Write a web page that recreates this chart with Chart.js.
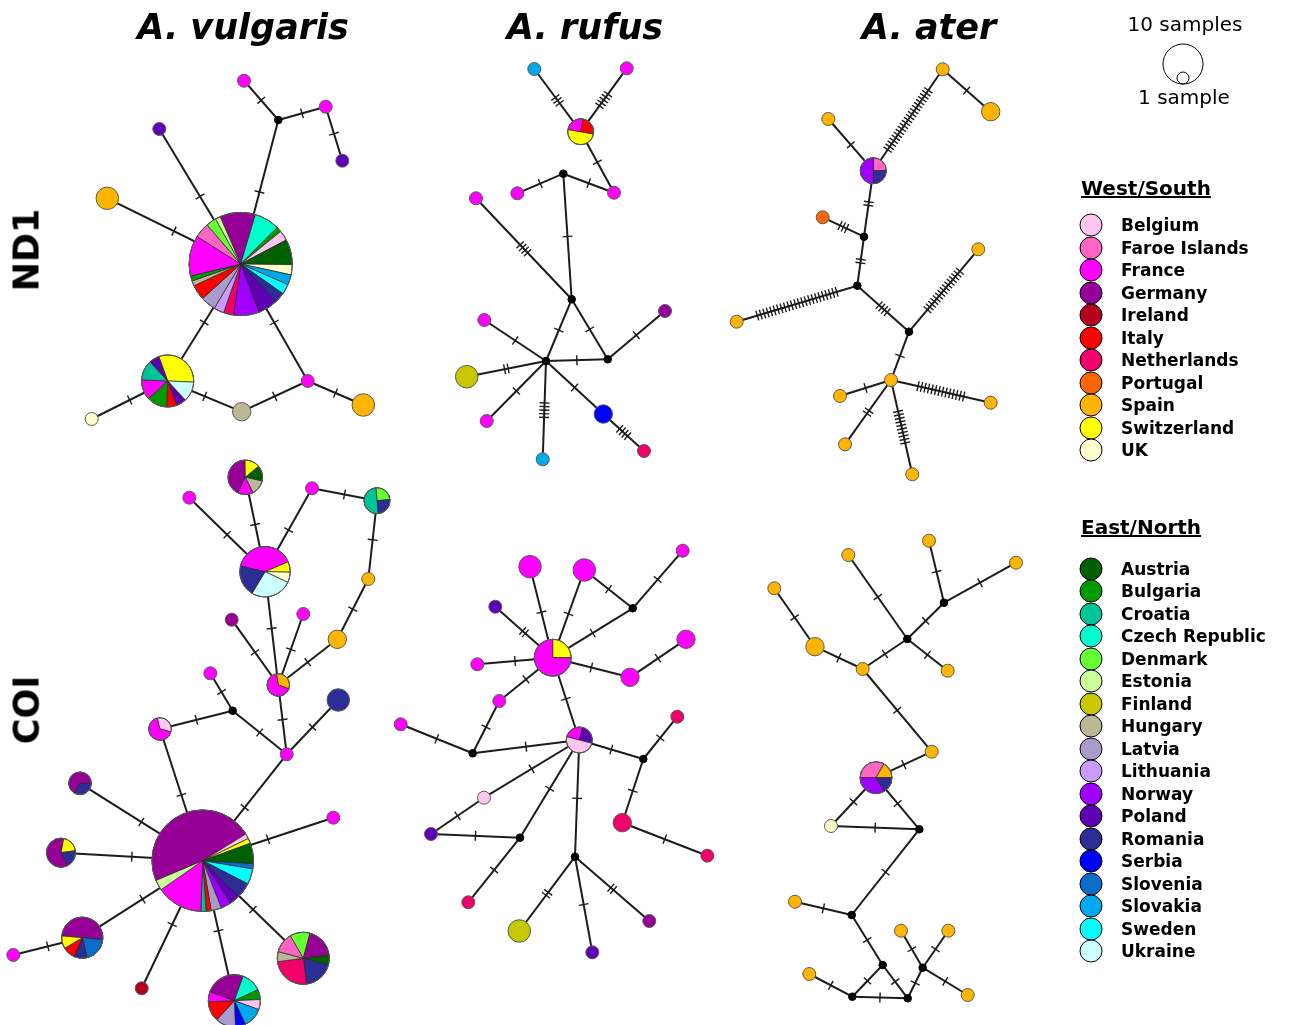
<!DOCTYPE html>
<html>
<head>
<meta charset="utf-8">
<title>Haplotype networks – Arion ND1 / COI</title>
<script src="https://cdn.jsdelivr.net/npm/chart.js@4.4.1/dist/chart.umd.min.js"></script>
<style>
  html, body { margin:0; padding:0; background:#ffffff; }
  #stage { position:relative; width:1290px; height:1025px; overflow:hidden;
           font-family:"DejaVu Sans", Verdana, sans-serif; color:#000; }
  #net { position:absolute; left:0; top:0; }
  .lbl { position:absolute; line-height:1; white-space:nowrap; }
  .species { font-size:35px; font-weight:bold; font-style:italic; transform:translate(-50%,-50%); }
  .marker { font-size:35px; font-weight:bold; transform:translate(-50%,-50%) rotate(-90deg); }
  .size-note { font-size:20px; transform:translate(-50%,-50%); }
  .group { font-size:20px; font-weight:bold; text-decoration:underline; transform:translateY(-50%); }
  .country { font-size:17px; font-weight:bold; transform:translateY(-50%); }
  .swatch { position:absolute; width:23px; height:23px; border:1.5px solid #000; border-radius:50%;
            box-sizing:border-box; transform:translate(-50%,-50%); }
  .ring { position:absolute; border:1.5px solid #000; border-radius:50%; box-sizing:border-box;
          transform:translate(-50%,-50%); }
</style>
</head>
<body>
<div id="stage">
  <canvas id="net" width="1290" height="1025"></canvas>
  <div class="lbl species" style="left:243px;top:27px">A. vulgaris</div>
  <div class="lbl species" style="left:585px;top:27px">A. rufus</div>
  <div class="lbl species" style="left:929px;top:27px">A. ater</div>
  <div class="lbl marker" style="left:27px;top:250px">ND1</div>
  <div class="lbl marker" style="left:27px;top:710px">COI</div>
  <div class="lbl size-note" style="left:1185px;top:24px">10 samples</div>
  <div class="ring" style="left:1183px;top:64px;width:41px;height:41px"></div>
  <div class="ring" style="left:1183px;top:77.5px;width:13px;height:13px"></div>
  <div class="lbl size-note" style="left:1184px;top:97px">1 sample</div>
  <div id="legend"></div>
</div>
<script>
// ---- Countries (legend groups) ----
const westSouth = ['Belgium','Faroe Islands','France','Germany','Ireland','Italy','Netherlands',
                   'Portugal','Spain','Switzerland','UK'];
const eastNorth = ['Austria','Bulgaria','Croatia','Czech Republic','Denmark','Estonia','Finland',
                   'Hungary','Latvia','Lithuania','Norway','Poland','Romania','Serbia','Slovenia',
                   'Slovakia','Sweden','Ukraine'];

const countryColours = {
  'Belgium':'#ffc6f2', 'Faroe Islands':'#ff66c4', 'France':'#ff00ff', 'Germany':'#960096',
  'Ireland':'#b5001e', 'Italy':'#ff0000', 'Netherlands':'#f2006a', 'Portugal':'#ff6600',
  'Spain':'#ffb400', 'Switzerland':'#ffff00', 'UK':'#ffffcc',
  'Austria':'#005f00', 'Bulgaria':'#009a00', 'Croatia':'#00c496', 'Czech Republic':'#00ffcc',
  'Denmark':'#66ff33', 'Estonia':'#ccff99', 'Finland':'#c8c800', 'Hungary':'#bab896',
  'Latvia':'#a99ccb', 'Lithuania':'#c89cff', 'Norway':'#9f00ff', 'Poland':'#5e00b4',
  'Romania':'#2d2d96', 'Serbia':'#0000ff', 'Slovenia':'#0a6ec8', 'Slovakia':'#00a8ee',
  'Sweden':'#00ffff', 'Ukraine':'#ccffff'
};

// ---- Haplotype networks ----
// node: [id, layout x, layout y, sample counts per country]; an empty list is an
// inferred (unsampled) median vector. link: [from, to, number of mutational steps]

// A. vulgaris – ND1
const vulgarisND1Nodes = [
  ['v1', 244, 80.7, [['France',1]]],
  ['vj1', 278.3, 120, []],
  ['v2', 325.7, 106.7, [['France',1]]],
  ['v3', 342.3, 160.7, [['Poland',1]]],
  ['v4', 159.3, 129, [['Poland',1]]],
  ['v5', 107.3, 198.3, [['Spain',3]]],
  ['vp1', 240.7, 264, [['Germany',7],['Czech Republic',5],['Bulgaria',1],['Belgium',2],['Austria',5],
        ['UK',2],['Slovakia',2],['Sweden',2],['Romania',2],['Poland',4],['Norway',5],['Netherlands',2],
        ['Lithuania',2],['Latvia',3],['Italy',3],['Hungary',1],['Bulgaria',1],['France',8],
        ['Faroe Islands',3],['Denmark',2],['Estonia',1]]],
  ['vp2', 167.7, 381, [['Switzerland',5],['Ukraine',2],['Poland',1],['Italy',1],['Bulgaria',2],
        ['France',2],['Croatia',2],['Poland',1]]],
  ['v6', 91.7, 419, [['UK',1]]],
  ['v7', 241.7, 411.7, [['Hungary',2]]],
  ['v8', 307.7, 381, [['France',1]]],
  ['v9', 363.3, 405, [['Spain',3]]]
];
const vulgarisND1Links = [
  ['v1','vj1',1], ['vj1','v2',1], ['v2','v3',1], ['vj1','vp1',1], ['v4','vp1',1], ['v5','vp1',1],
  ['vp1','vp2',1], ['vp1','v8',1], ['vp2','v6',1], ['vp2','v7',1], ['v7','v8',1], ['v8','v9',1]
];

// A. rufus – ND1
const rufusND1Nodes = [
  ['r1', 534.3, 69, [['Slovakia',1]]],
  ['r2', 626.7, 68.3, [['France',1]]],
  ['rp', 580.7, 131.7, [['Switzerland',2],['France',1],['Italy',1]]],
  ['r3', 614, 192.7, [['France',1]]],
  ['r4', 517.3, 193.3, [['France',1]]],
  ['rj1', 563.3, 173.7, []],
  ['r5', 476, 198.3, [['France',1]]],
  ['rj2', 571.7, 299.3, []],
  ['r6', 484.3, 320, [['France',1]]],
  ['r7', 665, 311, [['Germany',1]]],
  ['rj3', 546, 361, []],
  ['rj4', 607.7, 359.3, []],
  ['r8', 466.7, 376.7, [['Finland',3]]],
  ['r9', 486.7, 421, [['France',1]]],
  ['r10', 542.7, 459.3, [['Slovakia',1]]],
  ['r11', 603.3, 414, [['Serbia',2]]],
  ['r12', 644, 451, [['Netherlands',1]]]
];
const rufusND1Links = [
  ['r1','rp',3], ['r2','rp',5], ['rp','r3',1], ['r3','rj1',1], ['r4','rj1',1], ['rj1','rj2',1],
  ['r5','rj2',4], ['rj2','rj3',1], ['rj2','rj4',1], ['rj3','rj4',1], ['rj4','r7',1], ['r6','rj3',1],
  ['r8','rj3',2], ['r9','rj3',1], ['r10','rj3',5], ['rj3','r11',1], ['r11','r12',4]
];

// A. ater – ND1
const aterND1Nodes = [
  ['t1', 942.7, 69.3, [['Spain',1]]],
  ['t2', 990.7, 111.7, [['Spain',2]]],
  ['t3', 828.3, 119, [['Spain',1]]],
  ['tp', 873.3, 170.7, [['Faroe Islands',1],['Romania',1],['Norway',2]]],
  ['tj1', 864, 236.7, []],
  ['t4', 822.7, 217.3, [['Portugal',1]]],
  ['tj2', 857.3, 285.7, []],
  ['t5', 736.7, 321.7, [['Spain',1]]],
  ['tj3', 909, 331.7, []],
  ['t6', 978.3, 249.3, [['Spain',1]]],
  ['t7', 891, 380, [['Spain',1]]],
  ['t8', 840, 396, [['Spain',1]]],
  ['t9', 990.7, 402.7, [['Spain',1]]],
  ['t10', 845, 444.3, [['Spain',1]]],
  ['t11', 912.3, 474.3, [['Spain',1]]]
];
const aterND1Links = [
  ['t1','tp',21], ['t1','t2',1], ['t3','tp',1], ['tp','tj1',2], ['t4','tj1',3], ['tj1','tj2',2],
  ['t5','tj2',24], ['tj2','tj3',4], ['tj3','t6',15], ['tj3','t7',1], ['t7','t8',1], ['t7','t9',14],
  ['t7','t10',2], ['t7','t11',10]
];

// A. vulgaris – COI
const vulgarisCOINodes = [
  ['c1', 245.3, 477.3, [['Germany',3],['Switzerland',1],['Austria',1],['Hungary',1],['France',1]]],
  ['c2', 189.3, 497.7, [['France',1]]],
  ['c3', 312, 488.3, [['France',1]]],
  ['c4', 377, 500.7, [['Denmark',1],['Romania',1],['Croatia',2]]],
  ['c5', 368.3, 579, [['Spain',1]]],
  ['c6', 337.3, 639.3, [['Spain',2]]],
  ['c7', 303.3, 614, [['France',1]]],
  ['c8', 231.7, 619.7, [['Germany',1]]],
  ['cp', 265, 571.7, [['France',6],['Switzerland',1],['UK',1],['Ukraine',4],['Romania',3]]],
  ['c9', 278.3, 685, [['Spain',1],['France',2]]],
  ['c10', 338.3, 700, [['Romania',3]]],
  ['c11', 210.3, 673.3, [['France',1]]],
  ['cj1', 232.7, 710.7, []],
  ['c12', 160, 729, [['Belgium',1],['France',2]]],
  ['c13', 286.7, 754.3, [['France',1]]],
  ['c14', 333.3, 817.7, [['France',1]]],
  ['bp', 202.7, 860.7, [['Germany',29],['Belgium',1],['Switzerland',1],['Austria',4],['Slovenia',1],
        ['Sweden',3],['Romania',3],['Poland',2],['Norway',2],['Latvia',2],['Italy',1],['Croatia',1],
        ['France',9],['Estonia',2]]],
  ['c15', 80, 783.3, [['Romania',1],['Germany',2]]],
  ['c16', 61, 852.7, [['Switzerland',1],['Romania',1],['Germany',3]]],
  ['c17', 82.3, 937.7, [['Germany',5],['Slovenia',2],['Romania',1],['Italy',1],['Switzerland',1]]],
  ['c18', 13.3, 955, [['France',1]]],
  ['c19', 141.7, 988.3, [['Ireland',1]]],
  ['c20', 234.3, 1000.7, [['Germany',4],['Czech Republic',2],['Bulgaria',1],['Belgium',1],['Slovakia',2],
        ['Serbia',1],['Latvia',2],['Italy',2],['France',1]]],
  ['c21', 303.3, 958.3, [['Denmark',2],['Germany',3],['Austria',1],['Romania',3],['Netherlands',4],
        ['Hungary',1],['Faroe Islands',2]]]
];
const vulgarisCOILinks = [
  ['c1','cp',1], ['c2','cp',1], ['c3','cp',1], ['c3','c4',1], ['c4','c5',1], ['c5','c6',1],
  ['c6','c9',1], ['cp','c9',1], ['c8','c9',1], ['c7','c9',1], ['c9','c13',1], ['c10','c13',1],
  ['c11','cj1',1], ['c12','cj1',1], ['cj1','c13',1], ['c13','bp',1], ['c12','bp',1], ['c15','bp',1],
  ['c16','bp',1], ['c17','bp',1], ['c17','c18',1], ['c19','bp',1], ['c20','bp',1], ['c21','bp',1],
  ['c14','bp',1]
];

// A. rufus – COI
const rufusCOINodes = [
  ['u1', 530, 566.7, [['France',3]]],
  ['u2', 584.3, 570, [['France',3]]],
  ['u3', 682.7, 550.7, [['France',1]]],
  ['u4', 495.3, 606.7, [['Poland',1]]],
  ['uj1', 632.7, 608.3, []],
  ['up', 552.7, 657.7, [['Switzerland',2],['France',6]]],
  ['u5', 477.3, 664.3, [['France',1]]],
  ['u6', 630, 677.3, [['France',2]]],
  ['u7', 686, 639.3, [['France',2]]],
  ['u8', 499.3, 701, [['France',1]]],
  ['u9', 400.7, 724.3, [['France',1]]],
  ['uj2', 472.7, 753.3, []],
  ['uq', 579.3, 740, [['France',1],['Poland',1],['Belgium',2]]],
  ['u10', 677.3, 716.7, [['Netherlands',1]]],
  ['uj3', 643.3, 759, []],
  ['u11', 484, 797.7, [['Belgium',1]]],
  ['u12', 622.3, 822.7, [['Netherlands',2]]],
  ['u13', 431, 834, [['Poland',1]]],
  ['uj4', 520, 837.7, []],
  ['uj5', 575, 856.7, []],
  ['u14', 707.3, 855.7, [['Netherlands',1]]],
  ['u15', 468.3, 902.3, [['Netherlands',1]]],
  ['u16', 519.3, 931, [['Finland',3]]],
  ['u17', 649.3, 921, [['Germany',1]]],
  ['u18', 592.3, 952.3, [['Poland',1]]]
];
const rufusCOILinks = [
  ['u1','up',1], ['u2','up',1], ['u2','uj1',1], ['u3','uj1',1], ['uj1','up',1], ['u4','up',2],
  ['u5','up',1], ['up','u6',1], ['u6','u7',1], ['up','u8',1], ['u8','uj2',1], ['u9','uj2',1],
  ['uj2','uq',1], ['up','uq',1], ['uq','uj3',1], ['uj3','u10',1], ['uj3','u12',1], ['u12','u14',1],
  ['uq','u11',1], ['u11','u13',1], ['u13','uj4',1], ['uq','uj4',1], ['uj4','u15',1], ['uq','uj5',1],
  ['uj5','u16',2], ['uj5','u18',1], ['uj5','u17',2]
];

// A. ater – COI
const aterCOINodes = [
  ['a1', 929, 540.7, [['Spain',1]]],
  ['a2', 1016, 562.7, [['Spain',1]]],
  ['aj1', 944, 602.7, []],
  ['a3', 848.3, 555, [['Spain',1]]],
  ['aj2', 907.3, 639, []],
  ['a4', 947.7, 670.7, [['Spain',1]]],
  ['a5', 774.3, 588.3, [['Spain',1]]],
  ['a6', 815, 646.7, [['Spain',2]]],
  ['a7', 862.7, 669, [['Spain',1]]],
  ['a8', 931.7, 751.7, [['Spain',1]]],
  ['ap', 876, 777.7, [['Faroe Islands',2],['Spain',1],['Romania',1],['Norway',2]]],
  ['a9', 831, 826, [['UK',1]]],
  ['aj3', 919.3, 829.3, []],
  ['a10', 795, 901.7, [['Spain',1]]],
  ['aj4', 851.7, 915, []],
  ['a11', 901, 930.7, [['Spain',1]]],
  ['a12', 948.3, 930.7, [['Spain',1]]],
  ['aj5', 882.7, 965, []],
  ['aj6', 922.7, 967.7, []],
  ['a13', 809.3, 974, [['Spain',1]]],
  ['aj7', 852.3, 996.7, []],
  ['aj8', 907.7, 998.3, []],
  ['a14', 967.7, 995, [['Spain',1]]]
];
const aterCOILinks = [
  ['a1','aj1',1], ['a2','aj1',1], ['aj1','aj2',1], ['a3','aj2',1], ['aj2','a4',1], ['aj2','a7',1],
  ['a5','a6',1], ['a6','a7',1], ['a7','a8',1], ['a8','ap',1], ['ap','a9',1], ['ap','aj3',1],
  ['a9','aj3',1], ['aj3','aj4',1], ['a10','aj4',1], ['aj4','aj5',1], ['aj5','aj7',1], ['aj5','aj8',1],
  ['aj7','aj8',1], ['a13','aj7',1], ['aj8','aj6',1], ['a11','aj6',1], ['a12','aj6',1], ['aj6','a14',1]
];

// Orientation of the first slice of each mixed haplotype (degrees clockwise from 12 o'clock)
const pieStartDeg = { vp1:-23.5, vp2:-20, rp:100, tp:0, c1:205, c4:-5, cp:283, c9:-10, c12:-15,
  bp:247, c15:90, c16:10, c17:275, c20:290, c21:330, up:0, uq:285, ap:270 };

const networks = [
  { nodes: vulgarisND1Nodes, links: vulgarisND1Links },
  { nodes: rufusND1Nodes,    links: rufusND1Links },
  { nodes: aterND1Nodes,     links: aterND1Links },
  { nodes: vulgarisCOINodes, links: vulgarisCOILinks },
  { nodes: rufusCOINodes,    links: rufusCOILinks },
  { nodes: aterCOINodes,     links: aterCOILinks }
];
networks.forEach(net => { net.byId = {}; net.nodes.forEach(n => { net.byId[n[0]] = n; }); });

const sampleTotal = comp => comp.reduce((s, c) => s + c[1], 0);
// circle area proportional to number of samples
const nodeRadius = n => { const t = sampleTotal(n[3]); return t ? 6.5 * Math.sqrt(t) : 3.8; };

// ---- Drawing of links, mutation ticks and pie slices ----
const networkPlugin = {
  id: 'haplotypeNetwork',
  beforeDatasetsDraw(chart) {
    const { ctx, scales: { x, y } } = chart;
    ctx.save();
    ctx.lineCap = 'butt';
    networks.forEach(net => {
      net.links.forEach(([a, b, steps]) => {
        const A = net.byId[a], B = net.byId[b];
        const x1 = x.getPixelForValue(A[1]), y1 = y.getPixelForValue(A[2]);
        const x2 = x.getPixelForValue(B[1]), y2 = y.getPixelForValue(B[2]);
        ctx.strokeStyle = '#1c1c1c';
        ctx.lineWidth = 2;
        ctx.beginPath(); ctx.moveTo(x1, y1); ctx.lineTo(x2, y2); ctx.stroke();
        const dx = x2 - x1, dy = y2 - y1, len = Math.hypot(dx, dy);
        const ux = dx / len, uy = dy / len, px = -uy, py = ux;
        const mx = (x1 + x2) / 2, my = (y1 + y2) / 2;
        ctx.lineWidth = 1.4;
        ctx.beginPath();
        for (let i = 0; i < steps; i++) {
          const off = (i - (steps - 1) / 2) * 3.6;
          const cx = mx + ux * off, cy = my + uy * off;
          ctx.moveTo(cx - px * 5, cy - py * 5);
          ctx.lineTo(cx + px * 5, cy + py * 5);
        }
        ctx.stroke();
      });
    });
    ctx.restore();
  },
  afterDatasetsDraw(chart) {
    const { ctx, scales: { x, y } } = chart;
    ctx.save();
    networks.forEach(net => {
      net.nodes.forEach(n => {
        const comp = n[3];
        if (comp.length < 2) return;
        const cx = x.getPixelForValue(n[1]), cy = y.getPixelForValue(n[2]);
        const r = nodeRadius(n), tot = sampleTotal(comp);
        let ang = ((pieStartDeg[n[0]] || 0) - 90) * Math.PI / 180;
        comp.forEach(([country, count]) => {
          const end = ang + count / tot * Math.PI * 2;
          ctx.beginPath();
          ctx.moveTo(cx, cy);
          ctx.arc(cx, cy, r, ang, end);
          ctx.closePath();
          ctx.fillStyle = countryColours[country];
          ctx.fill();
          ctx.strokeStyle = '#2a2a2a';
          ctx.lineWidth = 0.7;
          ctx.stroke();
          ang = end;
        });
        ctx.beginPath();
        ctx.arc(cx, cy, r, 0, Math.PI * 2);
        ctx.strokeStyle = '#5a5a5a';
        ctx.lineWidth = 1;
        ctx.stroke();
      });
    });
    ctx.restore();
  }
};

new Chart(document.getElementById('net'), {
  type: 'scatter',
  data: {
    datasets: networks.map(net => ({
      data: net.nodes.map(n => ({ x: n[1], y: n[2] })),
      pointRadius: net.nodes.map(nodeRadius),
      pointHoverRadius: net.nodes.map(nodeRadius),
      pointBackgroundColor: net.nodes.map(n => n[3].length ? countryColours[n[3][0][0]] : '#000000'),
      pointBorderColor: net.nodes.map(n => n[3].length ? '#5a5a5a' : '#000000'),
      pointBorderWidth: 1,
      showLine: false,
      clip: false
    }))
  },
  options: {
    responsive: false,
    animation: false,
    events: [],
    layout: { padding: 0, autoPadding: false },
    scales: {
      x: { type: 'linear', min: 0, max: 1290, display: false },
      y: { type: 'linear', min: 0, max: 1025, reverse: true, display: false }
    },
    plugins: { legend: { display: false }, tooltip: { enabled: false } }
  },
  plugins: [networkPlugin]
});

// ---- Country legend ----
(function buildLegend() {
  const host = document.getElementById('legend');
  const addGroup = (title, list, titleY, firstY, step) => {
    const h = document.createElement('div');
    h.className = 'lbl group';
    h.style.left = '1081px';
    h.style.top = titleY + 'px';
    h.textContent = title;
    host.appendChild(h);
    list.forEach((name, i) => {
      const cy = firstY + i * step;
      const sw = document.createElement('div');
      sw.className = 'swatch';
      sw.style.left = '1091px';
      sw.style.top = cy + 'px';
      sw.style.background = countryColours[name];
      host.appendChild(sw);
      const t = document.createElement('div');
      t.className = 'lbl country';
      t.style.left = '1121px';
      t.style.top = cy + 'px';
      t.textContent = name;
      host.appendChild(t);
    });
  };
  addGroup('West/South', westSouth, 188, 225, 22.5);
  addGroup('East/North', eastNorth, 527, 569, 22.47);
})();
</script>
</body>
</html>
